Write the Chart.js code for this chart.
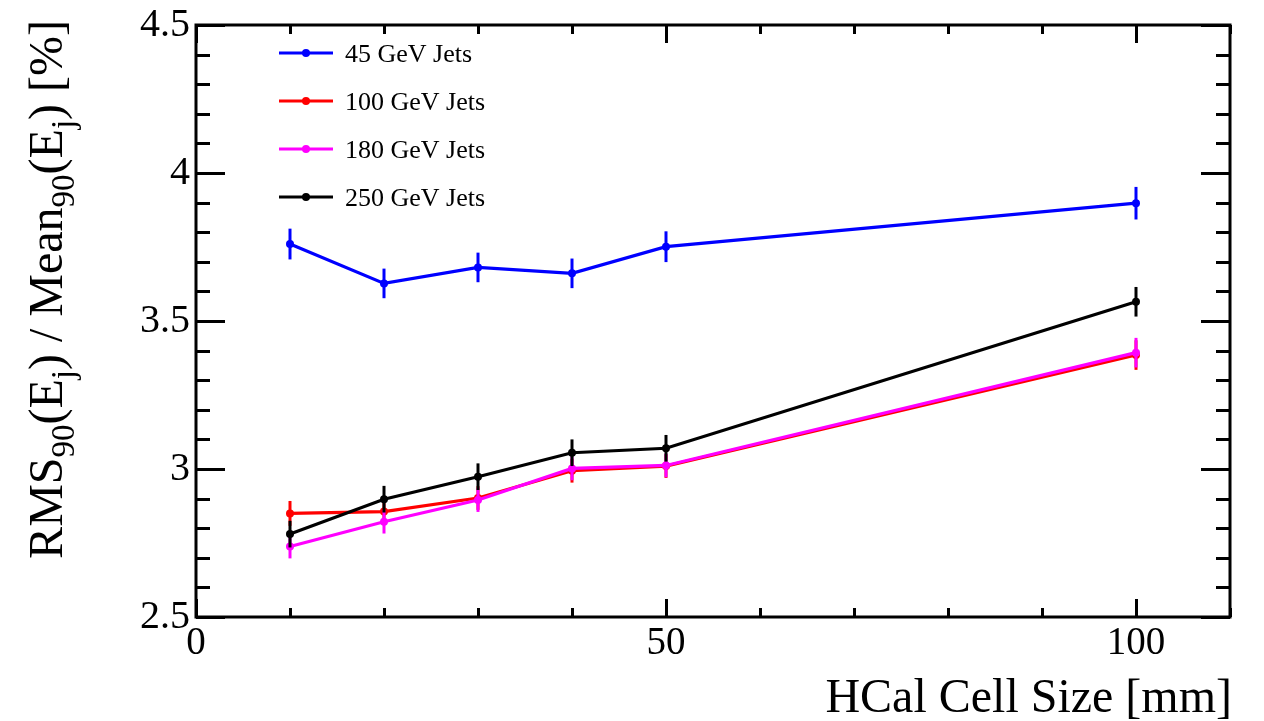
<!DOCTYPE html>
<html>
<head>
<meta charset="utf-8">
<script src="https://cdn.jsdelivr.net/npm/chart.js@4/dist/chart.umd.min.js"></script>
<style>
  html, body { margin: 0; padding: 0; background: #ffffff; }
  #wrap { width: 1264px; height: 721px; }
</style>
</head>
<body>
<div id="wrap"><canvas id="c" width="1264" height="721"></canvas></div>
<script>
// HCal cell size scan: jet energy resolution per jet energy
const cellSizes = [10, 20, 30, 40, 50, 100];

const jets45  = [3.760, 3.627, 3.681, 3.661, 3.751, 3.898];
const jets100 = [2.850, 2.856, 2.902, 2.994, 3.010, 3.385];
const jets180 = [2.738, 2.822, 2.895, 3.002, 3.012, 3.393];
const jets250 = [2.780, 2.898, 2.974, 3.055, 3.070, 3.565];

const err45  = [0.052, 0.050, 0.050, 0.050, 0.052, 0.055];
const err100 = [0.042, 0.040, 0.040, 0.040, 0.040, 0.050];
const err180 = [0.040, 0.040, 0.040, 0.040, 0.040, 0.050];
const err250 = [0.045, 0.045, 0.045, 0.045, 0.045, 0.050];

const seriesNames = ['45 GeV Jets', '100 GeV Jets', '180 GeV Jets', '250 GeV Jets'];
const seriesColors = ['#0000ff', '#ff0000', '#ff00ff', '#000000'];

const xTickValues = [0, 50, 100];
const yTickValues = [2.5, 3, 3.5, 4, 4.5];

const SERIF = '"Liberation Serif", "DejaVu Serif", serif';

function makeSet(i, values, errors, order) {
  return {
    label: seriesNames[i],
    data: cellSizes.map((x, k) => ({ x: x, y: values[k] })),
    errors: errors,
    borderColor: seriesColors[i],
    backgroundColor: seriesColors[i],
    borderWidth: 3.2,
    pointRadius: 4,
    pointBorderWidth: 0,
    pointBackgroundColor: seriesColors[i],
    tension: 0,
    fill: false,
    order: order
  };
}

// Vertical error bars, drawn right after each graph so layering follows the graphs
const errorBars = {
  id: 'errorBars',
  afterDatasetDraw(chart, args) {
    const ds = chart.data.datasets[args.index];
    const ys = chart.scales.y, xs = chart.scales.x;
    const ctx = chart.ctx;
    ctx.save();
    ctx.strokeStyle = ds.borderColor;
    ctx.lineWidth = 3;
    ctx.lineCap = 'butt';
    ds.data.forEach((p, k) => {
      const px = xs.getPixelForValue(p.x);
      const e = ds.errors[k];
      ctx.beginPath();
      ctx.moveTo(px, ys.getPixelForValue(p.y - e));
      ctx.lineTo(px, ys.getPixelForValue(p.y + e));
      ctx.stroke();
    });
    ctx.restore();
  }
};

// Frame with inward ticks on all four sides, axis titles and the legend box
const frameAndTitles = {
  id: 'frameAndTitles',
  afterDraw(chart) {
    const ctx = chart.ctx;
    const a = chart.chartArea;
    const xs = chart.scales.x, ys = chart.scales.y;
    ctx.save();
    ctx.strokeStyle = '#000';
    ctx.lineWidth = 3;
    ctx.lineCap = 'butt';

    // y ticks (left + right)
    for (let i = 0; i <= 20; i++) {
      const v = +(ys.min + i * 0.1).toFixed(2);
      const py = Math.round(ys.getPixelForValue(v)) + 0.5;
      const major = yTickValues.some(t => Math.abs(t - v) < 1e-6);
      const len = major ? 29 : 14;
      ctx.beginPath();
      ctx.moveTo(a.left, py); ctx.lineTo(a.left + len, py);
      ctx.moveTo(a.right, py); ctx.lineTo(a.right - len, py);
      ctx.stroke();
    }
    // x ticks (bottom + top)
    for (let v = 0; v <= xs.max; v += 10) {
      const px = Math.round(xs.getPixelForValue(v)) + 0.5;
      const major = xTickValues.includes(v);
      const len = major ? 18 : 9;
      ctx.beginPath();
      ctx.moveTo(px, a.bottom); ctx.lineTo(px, a.bottom - len);
      ctx.moveTo(px, a.top); ctx.lineTo(px, a.top + len);
      ctx.stroke();
    }
    // frame
    ctx.strokeRect(a.left, a.top, a.right - a.left, a.bottom - a.top);

    // x-axis title
    ctx.fillStyle = '#000';
    ctx.font = '48px ' + SERIF;
    ctx.textAlign = 'right';
    ctx.textBaseline = 'alphabetic';
    ctx.fillText('HCal Cell Size [mm]', a.right + 2, 712);

    // y-axis title with subscripts, rotated
    const parts = [
      { t: 'RMS' }, { t: '90', s: true }, { t: '(E' }, { t: 'j', s: true },
      { t: ') / Mean' }, { t: '90', s: true }, { t: '(E' }, { t: 'j', s: true }, { t: ') [%]' }
    ];
    const mainFont = '48px ' + SERIF, subFont = '33px ' + SERIF;
    let total = 0;
    parts.forEach(p => { ctx.font = p.s ? subFont : mainFont; p.w = ctx.measureText(p.t).width; total += p.w; });
    ctx.translate(62, 20 + total);
    ctx.rotate(-Math.PI / 2);
    ctx.textAlign = 'left';
    let cx = 0;
    parts.forEach(p => {
      ctx.font = p.s ? subFont : mainFont;
      ctx.fillText(p.t, cx, p.s ? 12 : 0);
      cx += p.w;
    });
    ctx.setTransform(1, 0, 0, 1, 0, 0);

    // legend
    const rows = [53, 101, 149, 197];
    ctx.font = '26px ' + SERIF;
    ctx.textAlign = 'left';
    ctx.textBaseline = 'alphabetic';
    seriesNames.forEach((name, i) => {
      const y = rows[i];
      ctx.strokeStyle = seriesColors[i];
      ctx.fillStyle = seriesColors[i];
      ctx.lineWidth = 3;
      ctx.beginPath(); ctx.moveTo(279, y); ctx.lineTo(333, y); ctx.stroke();
      ctx.beginPath(); ctx.arc(306, y, 4, 0, Math.PI * 2); ctx.fill();
      ctx.fillStyle = '#000';
      ctx.fillText(name, 345, y + 9);
    });
    ctx.restore();
  }
};

const chart = new Chart(document.getElementById('c'), {
  type: 'line',
  data: {
    datasets: [
      makeSet(0, jets45, err45, 3),
      makeSet(1, jets100, err100, 2),
      makeSet(2, jets180, err180, 1),
      makeSet(3, jets250, err250, 0)
    ]
  },
  options: {
    responsive: false,
    animation: false,
    devicePixelRatio: 1,
    layout: { padding: { left: 0, top: 25, right: 34, bottom: 0 } },
    plugins: { legend: { display: false }, tooltip: { enabled: false } },
    scales: {
      x: {
        type: 'linear', min: 0, max: 110,
        afterBuildTicks: s => { s.ticks = xTickValues.map(v => ({ value: v })); },
        afterFit: s => { s.height = 104; s.paddingLeft = 0; s.paddingRight = 0; },
        grid: { display: false, drawTicks: false },
        border: { display: false },
        ticks: { font: { family: SERIF, size: 39 }, color: '#000', padding: 3, maxRotation: 0, autoSkip: false }
      },
      y: {
        type: 'linear', min: 2.5, max: 4.5,
        afterBuildTicks: s => { s.ticks = yTickValues.map(v => ({ value: v })); },
        afterFit: s => { s.width = 196; s.paddingTop = 0; s.paddingBottom = 0; },
        grid: { display: false, drawTicks: false },
        border: { display: false },
        ticks: { font: { family: SERIF, size: 40 }, color: '#000', padding: 6, autoSkip: false, callback: v => String(v) }
      }
    }
  },
  plugins: [errorBars, frameAndTitles]
});
</script>
</body>
</html>
